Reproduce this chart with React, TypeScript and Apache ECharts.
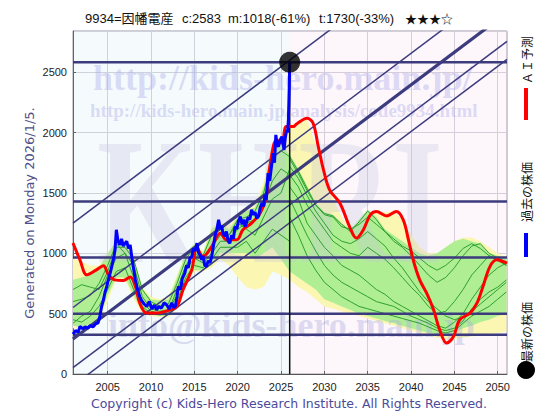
import React, { useEffect, useRef } from "react";
import * as echarts from "echarts";

// ---- axis ----
const xTickYears = [2005, 2010, 2015, 2020, 2025, 2030, 2035, 2040, 2045, 2050];
const X_MIN = 2001;
const X_MAX = 2051.07;
const Y_MAX = 2842;

// ---- past stock price (blue) ----
const pastYears = [
  2001.0, 2001.3, 2001.6, 2001.8, 2002.1, 2002.4, 2002.7, 2003.0, 2003.3, 2003.6, 2003.9, 2004.1, 2004.3, 2004.5,
  2004.7, 2004.9, 2005.1, 2005.3, 2005.5, 2005.7, 2005.85, 2006.0, 2006.2, 2006.4, 2006.6, 2006.8, 2007.0, 2007.2,
  2007.4, 2007.6, 2007.8, 2007.95, 2008.2, 2008.45, 2008.7, 2008.9, 2009.2, 2009.5, 2009.8, 2010.1, 2010.4, 2010.65,
  2010.9, 2011.2, 2011.5, 2011.8, 2012.1, 2012.4, 2012.6, 2012.8, 2013.0, 2013.15, 2013.4, 2013.6, 2013.9, 2014.1,
  2014.3, 2014.5, 2014.7, 2014.9, 2015.1, 2015.3, 2015.5, 2015.7, 2015.85, 2016.0, 2016.2, 2016.4, 2016.6, 2016.8,
  2017.0, 2017.2, 2017.4, 2017.6, 2017.8, 2018.0, 2018.15, 2018.3, 2018.5, 2018.7, 2018.9, 2019.1, 2019.3, 2019.5,
  2019.7, 2019.9, 2020.1, 2020.3, 2020.5, 2020.7, 2020.85, 2021.0, 2021.2, 2021.4, 2021.6, 2021.8, 2022.0, 2022.2,
  2022.4, 2022.6, 2022.8, 2023.0, 2023.15, 2023.3, 2023.5, 2023.7, 2023.9, 2024.1, 2024.25, 2024.4, 2024.55, 2024.7,
  2024.9, 2025.1, 2025.25, 2025.35, 2025.5, 2025.65, 2025.75, 2025.85, 2025.95, 2026.0,
];
const pastPrices = [
  330, 360, 345, 394, 375, 390, 380, 400, 390, 415, 424, 480, 560, 610,
  680, 725, 790, 838, 900, 960, 1029, 1195, 1100, 1070, 1120, 1060, 1084, 1100,
  1040, 1070, 960, 890, 780, 700, 642, 610, 580, 560, 600, 540, 570, 532,
  560, 545, 590, 574, 540, 590, 550, 560, 640, 725, 700, 790, 836, 900,
  880, 960, 973, 1040, 1020, 1084, 1000, 980, 946, 980, 900, 890, 940, 920,
  973, 1060, 1150, 1200, 1277, 1200, 1230, 1167, 1140, 1180, 1100, 1084, 1150, 1120,
  1222, 1200, 1270, 1305, 1240, 1280, 1220, 1250, 1300, 1280, 1360, 1320, 1340, 1290,
  1305, 1380, 1416, 1390, 1484, 1440, 1664, 1600, 1720, 1829, 1750, 1981, 1900, 1884,
  1940, 1967, 1900, 1857, 1960, 2022, 2000, 2105, 2381, 2583,
];

// ---- AI forecast (red) ----
const aiYears = [
  2001.0, 2001.8, 2002.6, 2003.7, 2004.5, 2005.1, 2005.8, 2006.8, 2007.6, 2008.2, 2008.7, 2009.5, 2010.7, 2012.2,
  2013.0, 2013.7, 2014.7, 2015.3, 2016.0, 2017.0, 2018.0, 2018.7, 2019.9, 2020.6, 2021.6, 2022.6, 2023.3, 2023.7,
  2024.5, 2025.1, 2025.6, 2026.4, 2026.8, 2028.0, 2028.7, 2029.3, 2029.9, 2030.6, 2031.8, 2032.9, 2033.7, 2034.5,
  2035.3, 2036.0, 2037.2, 2038.3, 2039.1, 2039.7, 2040.3, 2041.0, 2041.8, 2042.6, 2043.3, 2044.1, 2044.9, 2045.6,
  2046.8, 2047.6, 2048.3, 2049.1, 2049.9, 2050.6, 2051.07,
];
const aiValues = [
  1085, 946, 822, 863, 897, 822, 780, 775, 803, 725, 587, 505, 505, 532,
  560, 698, 863, 1043, 973, 1056, 1167, 1112, 1112, 1195, 1250, 1333, 1470, 1718,
  1940, 1912, 2050, 2050, 2072, 2119, 2078, 1884, 1691, 1526, 1415, 1222, 1126, 1195,
  1319, 1346, 1310, 1346, 1277, 1112, 932, 780, 670, 532, 366, 256, 311, 449,
  505, 587, 725, 890, 946, 932, 918,
];

// ---- simulated range bands ----
const bandYears = [
  2001, 2002, 2003, 2004, 2005, 2006, 2007, 2008, 2009, 2010, 2011, 2012, 2013, 2014, 2015, 2016, 2017,
  2018, 2019, 2020, 2021, 2022, 2023, 2024, 2025, 2026, 2027, 2028, 2029, 2030, 2031, 2032, 2033, 2034,
  2035, 2036, 2037, 2038, 2039, 2040, 2041, 2042, 2043, 2044, 2045, 2046, 2047, 2048, 2049, 2050, 2051,
];
const yellowLow = [
  380, 380, 390, 430, 600, 780, 780, 620, 500, 480, 470, 470, 540, 740, 850, 850, 880,
  950, 900, 800, 720, 700, 720, 850, 820, 780, 720, 680, 620, 560, 540, 520, 500, 480,
  460, 440, 420, 400, 380, 360, 340, 320, 300, 290, 290, 300, 310, 320, 330, 340, 350,
];
const yellowHigh = [
  960, 930, 900, 900, 1000, 1100, 1100, 980, 720, 640, 620, 640, 820, 1000, 1080, 1020, 1220,
  1260, 1230, 1300, 1350, 1400, 1600, 1900, 1950, 2060, 2090, 2110, 1900, 1600, 1450, 1300, 1200, 1250,
  1330, 1350, 1340, 1350, 1280, 1150, 1050, 1000, 1000, 1050, 1100, 1130, 1130, 1100, 1050, 1000, 970,
];
const greenLow = [
  400, 390, 400, 450, 650, 800, 800, 650, 520, 490, 480, 480, 560, 760, 860, 860, 900,
  1000, 1000, 1000, 1000, 950, 1000, 1050, 950, 850, 800, 750, 700, 620, 590, 560, 530, 500,
  480, 460, 440, 420, 400, 380, 360, 340, 330, 330, 350, 380, 400, 430, 450, 480, 500,
];
const greenHigh = [
  780, 800, 820, 880, 1000, 1100, 1080, 950, 700, 620, 610, 620, 800, 1000, 1080, 1000, 1200,
  1250, 1200, 1300, 1350, 1380, 1550, 1850, 1900, 1820, 1700, 1560, 1420, 1340, 1320, 1250, 1200, 1280,
  1360, 1300, 1200, 1150, 1100, 1050, 1000, 980, 1000, 1050, 1100, 1120, 1100, 1080, 1000, 980, 950,
];

// ---- simulated paths (green lines) ----
const pastPathYears = [
  2001, 2002, 2003, 2004, 2005, 2006, 2007, 2008, 2009, 2010, 2011, 2012, 2013, 2014, 2015, 2016, 2017,
  2018, 2019, 2020, 2021, 2022, 2023, 2024, 2025, 2026,
];
const pastPath1 = [420, 480, 520, 640, 820, 960, 1000, 900, 640, 540, 520, 530, 650, 860, 960, 920, 1000, 1100, 1100, 1200, 1250, 1280, 1400, 1600, 1700, 1650];
const pastPath2 = [700, 740, 720, 700, 850, 1050, 1050, 950, 700, 600, 560, 580, 750, 950, 1050, 980, 1150, 1200, 1150, 1280, 1300, 1350, 1500, 1800, 1850, 1800];
const pastPath3 = [450, 430, 480, 560, 700, 850, 880, 700, 560, 500, 490, 500, 600, 800, 900, 880, 950, 1050, 1050, 1050, 1100, 1000, 1100, 1200, 1150, 1100];
const pastPath4 = [600, 620, 650, 750, 900, 1080, 1000, 800, 600, 520, 500, 520, 700, 900, 1000, 950, 1050, 1150, 1150, 1250, 1200, 1150, 1300, 1450, 1500, 1700];

const futurePathYears = [
  2026, 2027, 2028, 2029, 2030, 2031, 2032, 2033, 2034, 2035, 2036, 2037, 2038, 2039, 2040, 2041, 2042,
  2043, 2044, 2045, 2046, 2047, 2048, 2049, 2050, 2051,
];
const futurePath1 = [1800, 1680, 1540, 1400, 1330, 1310, 1240, 1180, 1260, 1350, 1280, 1180, 1100, 1050, 980, 900, 820, 760, 800, 880, 980, 1060, 1080, 1000, 960, 930];
const futurePath2 = [1650, 1550, 1400, 1300, 1200, 1100, 1050, 1000, 980, 1050, 1000, 950, 880, 800, 720, 650, 560, 500, 520, 600, 700, 820, 900, 980, 950, 900];
const futurePath3 = [1550, 1450, 1250, 1150, 1050, 980, 900, 860, 820, 760, 700, 660, 600, 560, 520, 480, 440, 400, 380, 430, 500, 620, 720, 820, 880, 920];
const futurePath4 = [1720, 1620, 1480, 1350, 1250, 1150, 1100, 1080, 1120, 1180, 1120, 1060, 960, 880, 780, 680, 600, 540, 480, 450, 470, 520, 580, 640, 700, 760];
const futurePath5 = [1450, 1300, 1150, 1020, 900, 820, 760, 720, 680, 640, 600, 580, 560, 520, 480, 450, 420, 380, 360, 380, 440, 540, 620, 680, 720, 780];
const futurePath6 = [1780, 1660, 1520, 1400, 1320, 1300, 1220, 1200, 1240, 1300, 1240, 1180, 1120, 1060, 1020, 960, 900, 860, 900, 960, 1040, 1080, 1040, 980, 940, 900];
const futurePath7 = [1300, 1150, 980, 860, 760, 700, 640, 600, 560, 540, 520, 500, 480, 460, 440, 420, 390, 360, 340, 360, 420, 480, 520, 560, 620, 680];

// ---- support/resistance levels and trend channel ----
const levelValues = [2583, 1430, 965, 500, 325];
const channelStartValues = [1250, 551, 290, 52, -97];
const channelWidths = [1.5, 1.5, 3.2, 1.5, 1.5];
const channelSlopePerYear = 54;

const latestYear = 2026.0;
const latestPrice = 2583;

const NAVY = "#3b3b7d";
const SANS = "'Liberation Sans', Arial, 'Noto Sans CJK JP', sans-serif";
const JP = "'Noto Sans CJK JP', sans-serif";
const SERIF = "'Liberation Serif', 'DejaVu Serif', serif";

export default function App() {
  const ref = useRef<HTMLDivElement>(null);

  useEffect(() => {
    const chart = echarts.init(ref.current!, null, { renderer: "svg" });
    const pairs = (xs: number[], ys: number[]) => xs.map((x, i) => [x, ys[i]]);
    const series: any[] = [];

    // background halves
    series.push({
      type: "line",
      data: [[X_MIN, -100]],
      symbol: "none",
      lineStyle: { opacity: 0 },
      silent: true,
      z: 1,
      markArea: {
        silent: true,
        data: [
          [{ xAxis: X_MIN, yAxis: 0, itemStyle: { color: "rgba(170,215,230,0.12)" } }, { xAxis: latestYear, yAxis: Y_MAX }],
          [{ xAxis: latestYear, yAxis: 0, itemStyle: { color: "rgba(240,180,225,0.12)" } }, { xAxis: X_MAX, yAxis: Y_MAX }],
        ],
      },
    });

    const band = (low: number[], high: number[], color: string, z: number) => ({
      type: "custom",
      data: [[X_MIN, 0]],
      silent: true,
      z,
      clip: true,
      renderItem: (_p: any, api: any) => {
        const pts: number[][] = bandYears.map((y, i) => api.coord([y, high[i]]));
        for (let i = bandYears.length - 1; i >= 0; i--) pts.push(api.coord([bandYears[i], low[i]]));
        return { type: "polygon", shape: { points: pts }, style: { fill: color, stroke: null } };
      },
    });
    series.push(band(yellowLow, yellowHigh, "#fbf6b2", 3));
    series.push(band(greenLow, greenHigh, "#b0ee94", 4));

    // green paths
    [pastPath1, pastPath2, pastPath3, pastPath4].forEach((p) =>
      series.push({ type: "line", data: pairs(pastPathYears, p), symbol: "none", lineStyle: { color: "#2ea02e", width: 1 }, silent: true, z: 6 })
    );
    [futurePath1, futurePath2, futurePath3, futurePath4, futurePath5, futurePath6, futurePath7].forEach((p) =>
      series.push({ type: "line", data: pairs(futurePathYears, p), symbol: "none", lineStyle: { color: "#2ea02e", width: 1 }, silent: true, z: 6 })
    );

    // horizontal levels
    levelValues.forEach((v) =>
      series.push({ type: "line", data: [[X_MIN, v], [X_MAX, v]], symbol: "none", lineStyle: { color: NAVY, width: 2.5 }, silent: true, z: 7 })
    );
    // trend channel
    channelStartValues.forEach((v, i) =>
      series.push({
        type: "line",
        data: [[X_MIN, v], [X_MAX, v + channelSlopePerYear * (X_MAX - X_MIN)]],
        symbol: "none", clip: true, lineStyle: { color: NAVY, width: channelWidths[i] }, silent: true, z: 7,
      })
    );

    // vertical "today" line
    series.push({ type: "line", data: [[latestYear, 0], [latestYear, latestPrice]], symbol: "none", lineStyle: { color: "#111", width: 1.5 }, silent: true, z: 8 });

    // AI forecast
    series.push({ type: "line", data: pairs(aiYears, aiValues), symbol: "none", smooth: 0.35, lineStyle: { color: "#ff0000", width: 3 }, silent: true, z: 8 });
    // past price
    series.push({ type: "line", data: pairs(pastYears, pastPrices), symbol: "none", lineStyle: { color: "#0000ff", width: 3 }, silent: true, z: 9 });
    // latest dot
    series.push({ type: "scatter", data: [[latestYear, latestPrice]], symbolSize: 21, itemStyle: { color: "#000" }, silent: true, z: 10 });

    const wm = (text: string, x: number, y: number, size: number, color: string, op: number, extra: any = {}) => ({
      type: "text", x, y, z: 5, silent: true, ...extra,
      style: { text, fill: color, fontSize: size, fontWeight: "bold", fontFamily: SERIF, textAlign: "left", align: "left", textVerticalAlign: "middle", verticalAlign: "middle", opacity: op },
    });
    const txt = (text: string, x: number, y: number, size: number, color: string, family: string, align = "left", extra: any = {}) => ({
      type: "text", x, y, z: 20, silent: true, ...extra,
      style: { text, fill: color, fontSize: size, fontFamily: family, textAlign: align, align, textVerticalAlign: "middle", verticalAlign: "middle" },
    });

    chart.setOption({
      animation: false,
      backgroundColor: "#ffffff",
      grid: { left: 73, right: 53, top: 31, bottom: 46, show: true, borderColor: "#9a9aa6", borderWidth: 1, backgroundColor: "transparent" },
      xAxis: {
        type: "value", min: X_MIN, max: X_MAX,
        axisLine: { show: true, onZero: false, lineStyle: { color: "#555", width: 1 } },
        axisTick: { show: true, inside: true, length: 3, customValues: xTickYears, lineStyle: { color: "#555" } },
        axisLabel: { customValues: xTickYears, color: "#222", fontSize: 11, fontFamily: SANS, margin: 7, formatter: (v: number) => String(Math.round(v)) },
        splitLine: { show: true, lineStyle: { color: "#d2d2da", width: 1 } },
      },
      yAxis: {
        type: "value", min: 0, max: Y_MAX, interval: 500,
        axisLine: { show: true, lineStyle: { color: "#555", width: 1 } },
        axisTick: { show: true, inside: true, length: 3, lineStyle: { color: "#555" } },
        axisLabel: { color: "#222", fontSize: 11, fontFamily: SANS, margin: 6, showMaxLabel: false, formatter: (v: number) => String(Math.round(v)) },
        splitLine: { show: true, lineStyle: { color: "#d2d2da", width: 1 } },
      },
      series,
      graphic: [
        wm("http://kids-hero.main.jp/", 93, 78, 36, "#b0b0ec", 0.42),
        wm("http://kids-hero.main.jp/analysis/code9934.html", 90, 110, 19, "#b0b0ec", 0.42),
        wm("KHRI", 97, 201, 180, "#c4c4e0", 0.3, { scaleX: 0.72 }),
        wm("info@kids-hero.main.jp", 108, 325, 36, "#b0b0e0", 0.42),
        // title
        txt("9934=因幡電産", 85, 18, 13, "#111", SANS),
        txt("c:2583", 182, 18, 13, "#111", SANS),
        txt("m:1018(-61%)", 228, 18, 13, "#111", SANS),
        txt("t:1730(-33%)", 319, 18, 13, "#111", SANS),
        txt("★★★☆", 405, 18, 12, "#111", JP),
        // generated note
        txt("Generated on Monday 2026/1/5.", 29, 213, 13, "#4e4e8a", "'DejaVu Sans', sans-serif", "center", { rotation: Math.PI / 2 }),
        // copyright
        txt("Copyright (c) Kids-Hero Research Institute. All Rights Reserved.", 289, 403, 12.5, "#4b4b9b", "'DejaVu Sans', sans-serif", "center"),
        // legend (rotated)
        { type: "circle", shape: { cx: 526, cy: 370, r: 9 }, style: { fill: "#000" }, z: 20, silent: true },
        txt("最新の株価", 526, 362, 12, "#111", JP, "left", { rotation: Math.PI / 2 }),
        { type: "rect", shape: { x: 524, y: 233, width: 4, height: 24 }, style: { fill: "#0000ff" }, z: 20, silent: true },
        txt("過去の株価", 526, 222, 12, "#111", JP, "left", { rotation: Math.PI / 2 }),
        { type: "rect", shape: { x: 524, y: 88, width: 4, height: 32 }, style: { fill: "#ff0000" }, z: 20, silent: true },
        txt("ＡＩ予測", 526, 84, 12, "#111", JP, "left", { rotation: Math.PI / 2 }),
      ],
    });
    return () => chart.dispose();
  }, []);

  return <div ref={ref} style={{ position: "absolute", left: 0, top: 0, width: 560, height: 420 }} />;
}
